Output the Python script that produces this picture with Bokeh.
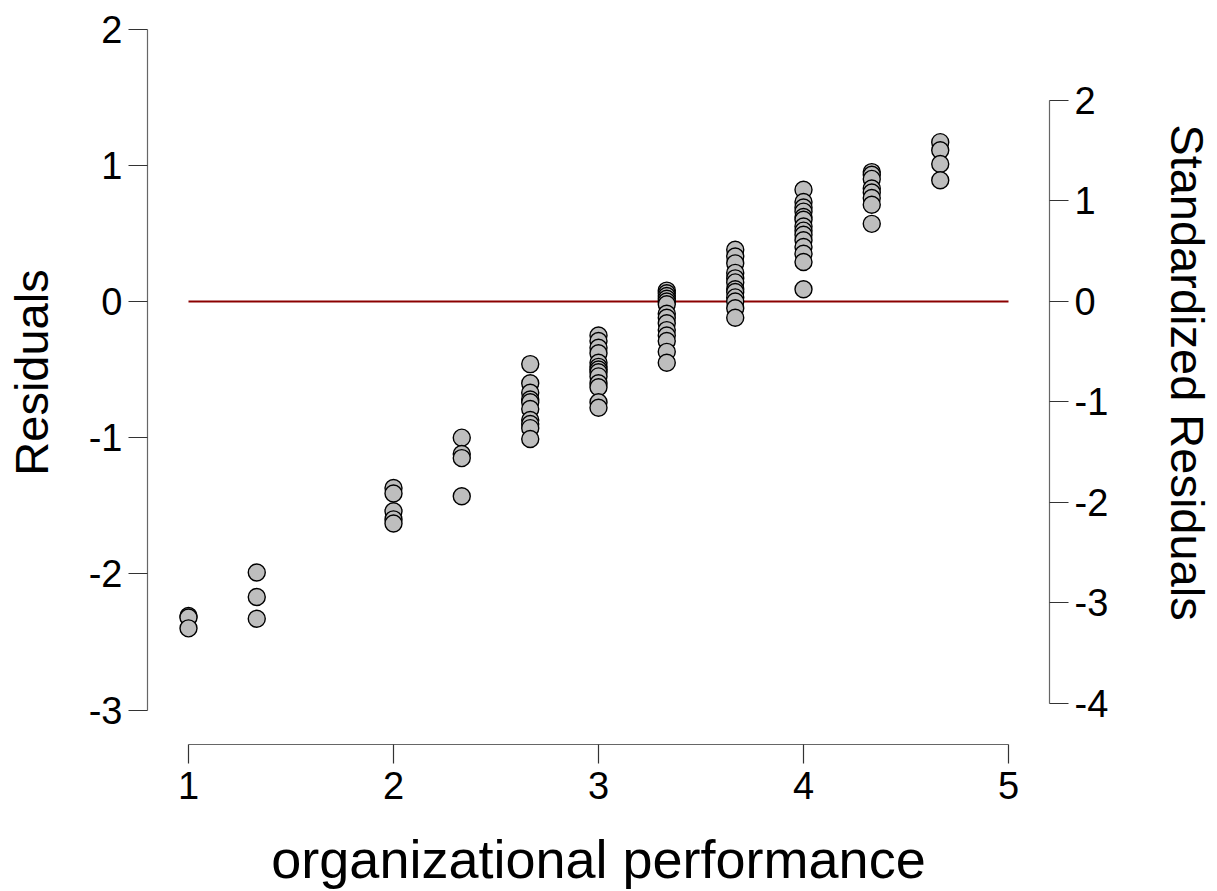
from bokeh.plotting import figure
from bokeh.models import Range1d, LinearAxis, FixedTicker
from bokeh.embed import file_html
from bokeh.resources import INLINE

# ---- data ----
x_level = (
    [1.0] * 3 + [1.333] * 3 + [2.0] * 5 + [2.333] * 4 + [2.667] * 10 + [3.0] * 13
    + [3.333] * 14 + [3.667] * 12 + [4.0] * 14 + [4.333] * 8 + [4.667] * 4
)
residuals = [
    -2.31, -2.32, -2.40,
    -1.99, -2.17, -2.33,
    -1.37, -1.41, -1.54, -1.60, -1.63,
    -1.00, -1.12, -1.15, -1.43,
    -0.46, -0.60, -0.67, -0.72, -0.74, -0.79, -0.87, -0.90, -0.93, -1.01,
    -0.25, -0.29, -0.34, -0.38, -0.45, -0.48, -0.50, -0.52, -0.55, -0.60, -0.63, -0.74, -0.78,
    0.08, 0.06, 0.04, 0.02, 0.00, -0.02, -0.09, -0.12, -0.16, -0.21, -0.25, -0.29, -0.37, -0.45,
    0.38, 0.33, 0.28, 0.21, 0.17, 0.14, 0.09, 0.07, 0.03, 0.00, -0.05, -0.12,
    0.82, 0.73, 0.69, 0.66, 0.62, 0.60, 0.55, 0.52, 0.49, 0.45, 0.40, 0.35, 0.29, 0.09,
    0.95, 0.93, 0.90, 0.83, 0.80, 0.76, 0.71, 0.57,
    1.17, 1.11, 1.01, 0.89,
]
zero_line_x = [1, 5]
zero_line_y = [0, 0]
x_ticks = [1, 2, 3, 4, 5]
resid_ticks = [-3, -2, -1, 0, 1, 2]
std_ticks = [-4, -3, -2, -1, 0, 1, 2]

FONT = "Liberation Sans"

p = figure(width=1217, height=891, output_backend="svg", toolbar_location=None,
           x_range=Range1d(0.8, 5.2), y_range=Range1d(-3.253, 2.210),
           x_axis_location=None, y_axis_location=None,
           min_border_left=147, min_border_right=168,
           min_border_top=0, min_border_bottom=147)
p.extra_y_ranges = {"std": Range1d(-4.408, 2.995)}
p.xgrid.visible = False
p.ygrid.visible = False
p.outline_line_color = None
p.background_fill_color = "white"
p.border_fill_color = "white"


def style(ax, ticks, label, standoff, size="47px"):
    ax.ticker = FixedTicker(ticks=ticks)
    ax.major_label_overrides = {t: str(t) for t in ticks}
    ax.major_tick_out = 19
    ax.major_tick_in = 0
    ax.minor_tick_out = 0
    ax.minor_tick_in = 0
    ax.axis_line_color = "#666666"
    ax.axis_line_width = 1.2
    ax.major_tick_line_color = "#333333"
    ax.major_tick_line_width = 1.2
    ax.major_label_text_font = FONT
    ax.major_label_text_font_size = "38px"
    ax.major_label_text_color = "black"
    ax.major_label_standoff = 6
    ax.axis_label = label
    ax.axis_label_text_font = FONT
    ax.axis_label_text_font_size = size
    ax.axis_label_text_font_style = "normal"
    ax.axis_label_text_color = "black"
    ax.axis_label_standoff = standoff


xa = LinearAxis(bounds=(1, 5))
style(xa, x_ticks, "organizational performance", 27, "54px")
xa.major_label_standoff = 8
p.add_layout(xa, "below")

ya = LinearAxis(bounds=(-3, 2))
style(ya, resid_ticks, "Residuals", 28)
p.add_layout(ya, "left")

ra = LinearAxis(bounds=(-4, 2), y_range_name="std")
style(ra, std_ticks, "Standardized Residuals", 50)
p.add_layout(ra, "right")

p.line(zero_line_x, zero_line_y, line_color="#8B0000", line_width=2.2)
p.scatter(x_level, residuals, size=17, fill_color="#BEBEBE",
          line_color="black", line_width=1.4)

open("out.html", "w").write(file_html(p, INLINE))
